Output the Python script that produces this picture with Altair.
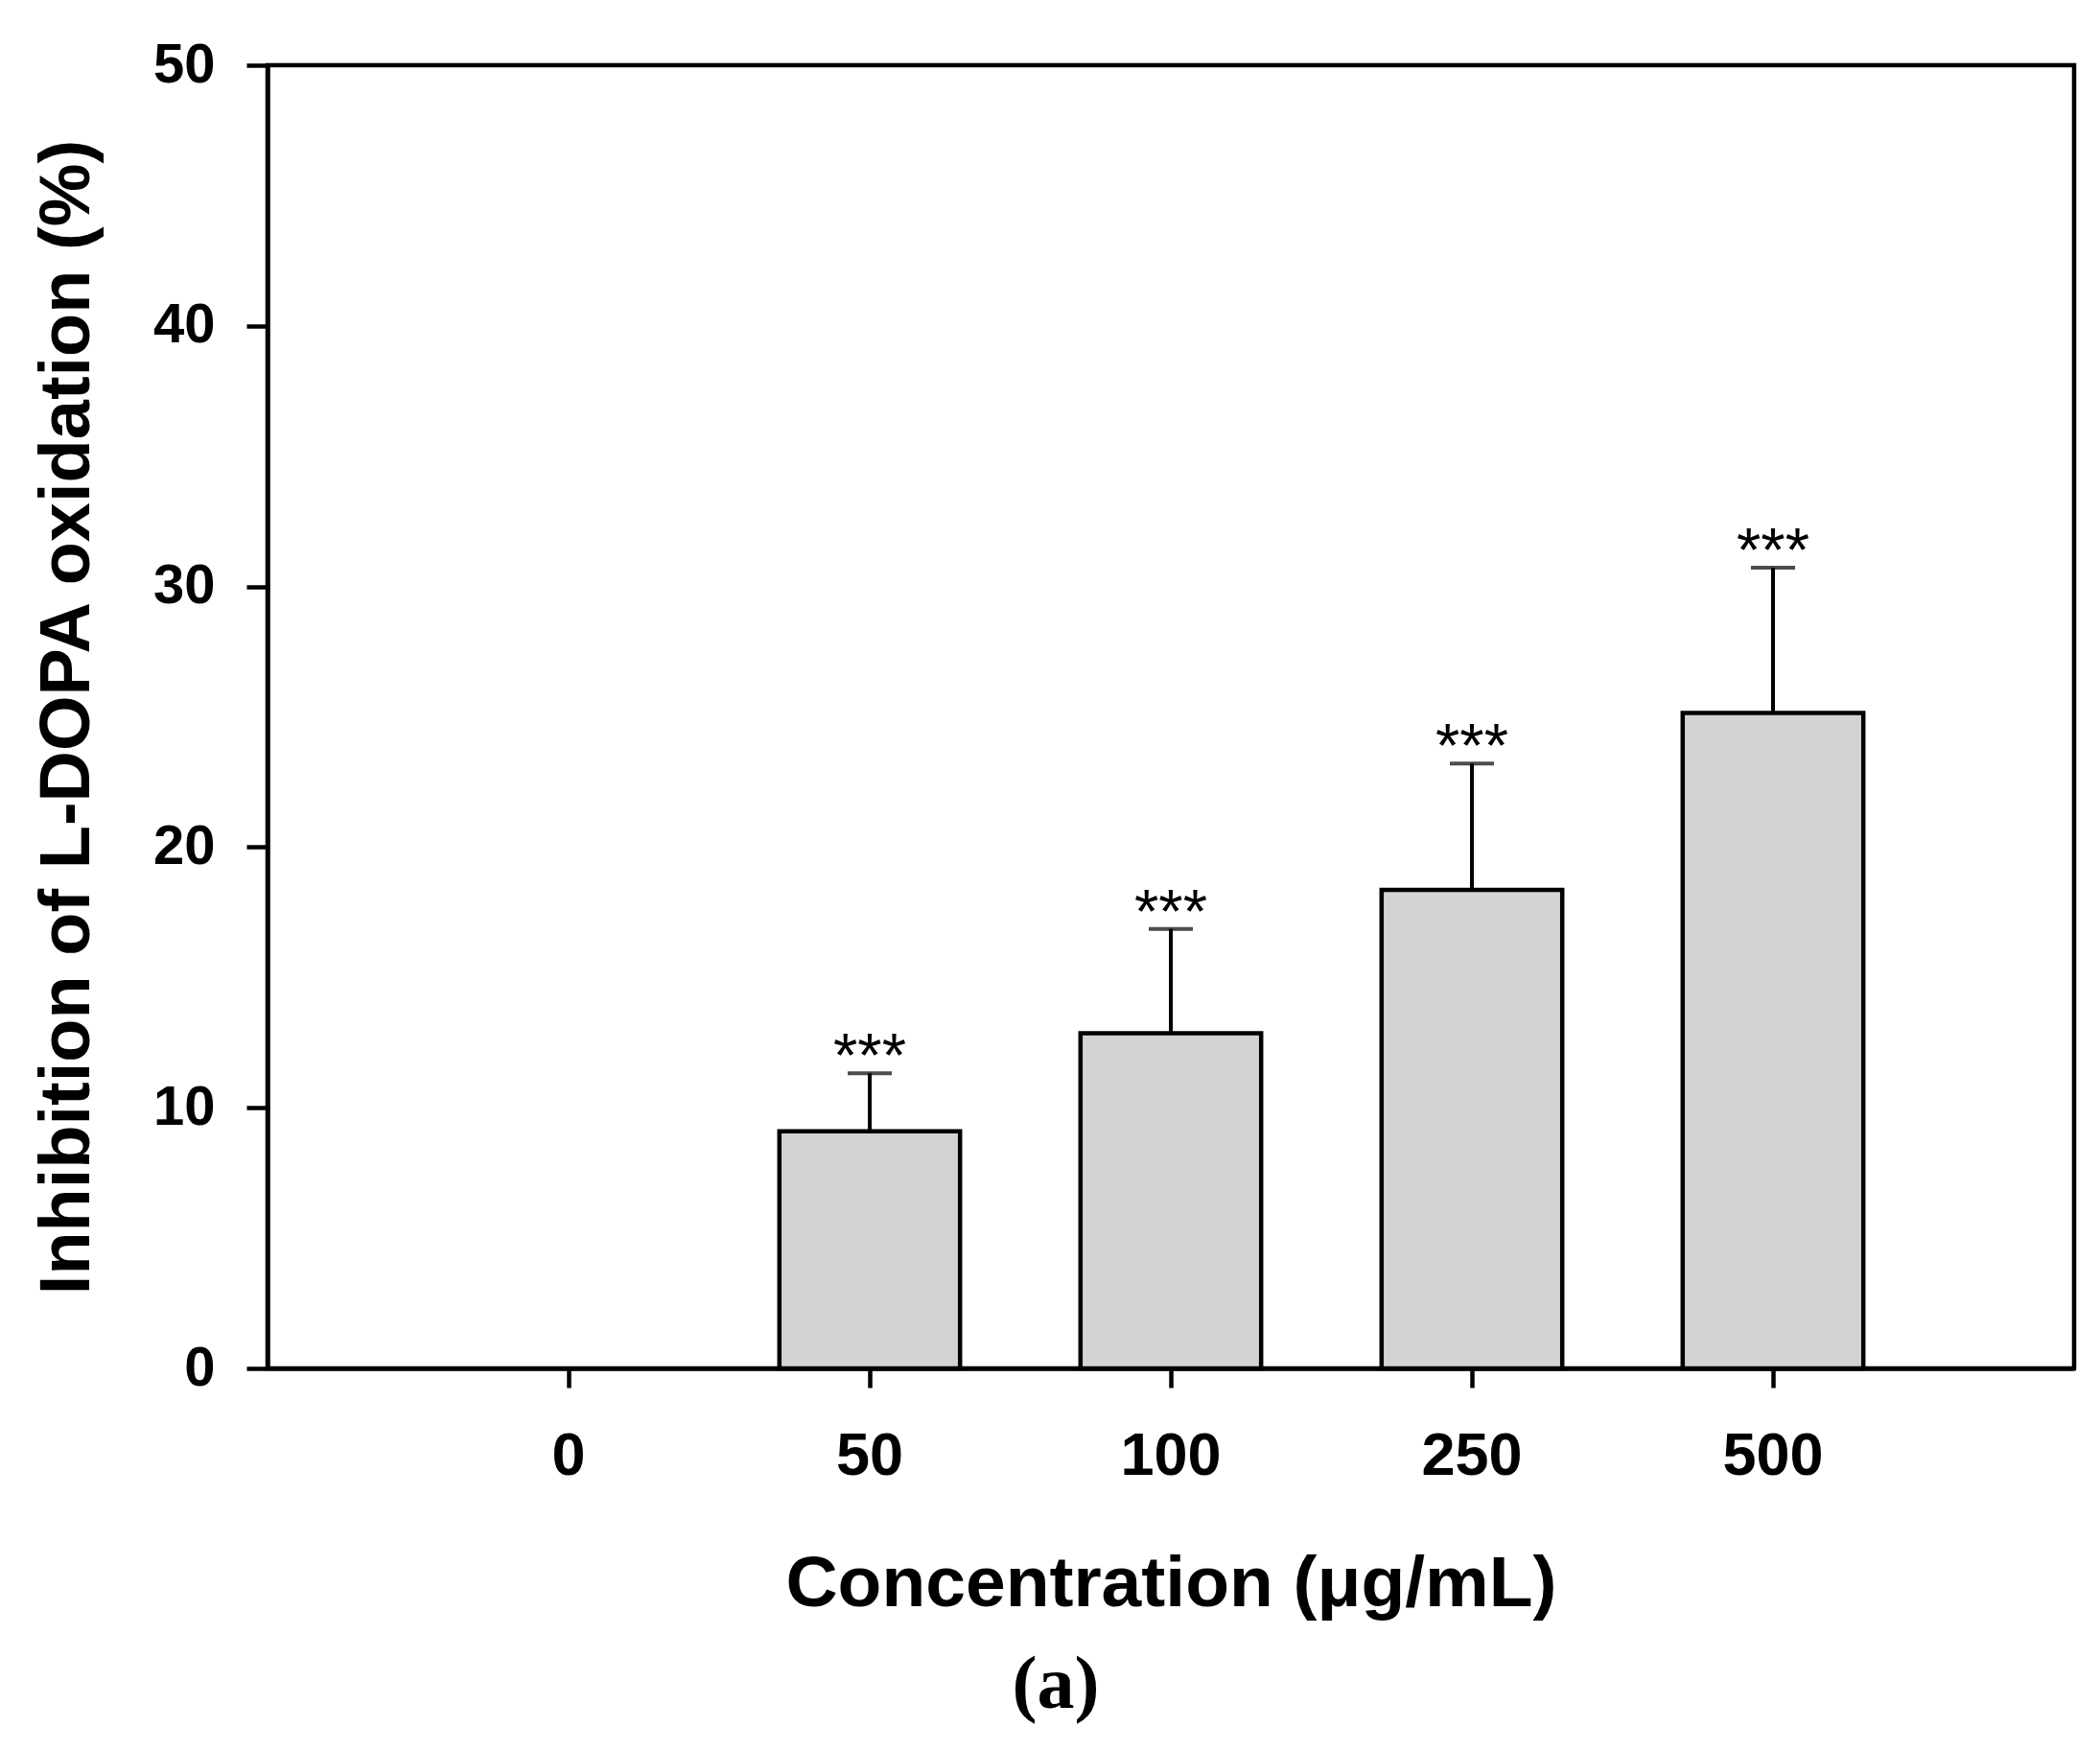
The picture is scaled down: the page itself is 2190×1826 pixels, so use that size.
import altair as alt
import pandas as pd

categories = ["0", "50", "100", "250", "500"]
means = [0.0, 9.1, 12.86, 18.36, 25.15]
errors = [0.0, 2.22, 4.0, 4.85, 5.57]
stars = ["", "***", "***", "***", "***"]

df = pd.DataFrame({"conc": categories, "mean": means, "err": errors, "sig": stars})

W, H = 1884, 1359
FONT = "Liberation Sans"

x_scale = alt.Scale(domain=categories, paddingInner=0.4, paddingOuter=0.7)

x_enc = alt.X(
    "conc:N",
    sort=categories,
    scale=x_scale,
    axis=alt.Axis(
        title="Concentration (μg/mL)",
        labelAngle=0,
        labelFont=FONT,
        labelFontSize=63,
        labelFontWeight="bold",
        labelColor="black",
        labelBaseline="alphabetic",
        labelPadding=90,
        tickSize=20,
        titleFont=FONT,
        titleFontSize=75,
        titleFontWeight="bold",
        titleColor="black",
        titleBaseline="alphabetic",
        titleY=247,
    ),
)

y_scale = alt.Scale(domain=[0, 50], nice=False, zero=True)
y_axis = alt.Axis(
    title="Inhibition of L-DOPA oxidation (%)",
    values=[0, 10, 20, 30, 40, 50],
    labelFont=FONT,
    labelFontSize=58,
    labelFontWeight="bold",
    labelColor="black",
    labelPadding=33,
    tickSize=22,
    titleFont=FONT,
    titleFontSize=74,
    titleFontWeight="bold",
    titleColor="black",
    titleBaseline="alphabetic",
    titleX=-187,
    titleY=H / 2,
    titleAngle=-90,
    grid=False,
)

base = alt.Chart(df)

bars = base.transform_filter("datum.mean > 0").mark_bar(
    fill="#D3D3D3", stroke="black", strokeWidth=4.5
).encode(
    x=x_enc,
    y=alt.Y("mean:Q", scale=y_scale, axis=y_axis),
)

err_base = base.transform_filter("datum.err > 0").transform_calculate(upper="datum.mean + datum.err")

err_line = err_base.mark_rule(color="black", strokeWidth=4).encode(
    x=alt.X("conc:N", sort=categories, scale=x_scale),
    y=alt.Y("mean:Q", scale=y_scale),
    y2="upper:Q",
)

err_cap = err_base.mark_tick(color="black", thickness=4, size=46, orient="horizontal").encode(
    x=alt.X("conc:N", sort=categories, scale=x_scale),
    y=alt.Y("upper:Q", scale=y_scale),
)

star_text = err_base.mark_text(
    font=FONT, fontSize=65, fontWeight="normal", color="black",
    baseline="alphabetic", align="center", dy=4,
).encode(
    x=alt.X("conc:N", sort=categories, scale=x_scale),
    y=alt.Y("upper:Q", scale=y_scale),
    text="sig:N",
)

chart = (
    alt.layer(bars, err_line, err_cap, star_text)
    .properties(
        width=W,
        height=H,
        background="white",
        autosize=alt.AutoSizeParams(type="none"),
        padding={"left": 271, "top": 60, "right": 19, "bottom": 385},
        title=alt.TitleParams(
            text="(a)",
            orient="bottom",
            anchor="middle",
            font="Liberation Serif",
            fontSize=78,
            fontWeight="bold",
            color="black",
            offset=30,
            dx=-120,
        ),
    )
    .configure_view(stroke="black", strokeWidth=4.5)
    .configure_axis(
        domainColor="black",
        domainWidth=4.5,
        tickColor="black",
        tickWidth=4.5,
        grid=False,
    )
)

chart.save("out.html", embed_options={"renderer": "svg", "actions": False})
